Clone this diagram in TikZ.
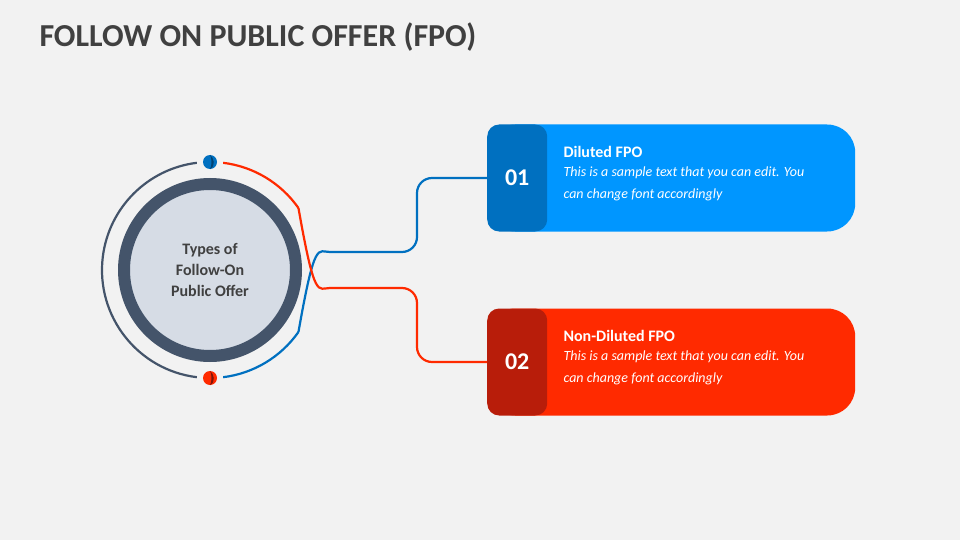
\documentclass[tikz,border=0pt]{standalone}
\usepackage{fontspec}
\setmainfont{Carlito}
\usetikzlibrary{positioning,calc}
\definecolor{bgray}{HTML}{F2F2F2}
\definecolor{tgray}{HTML}{404040}
\definecolor{ringc}{HTML}{44546A}
\definecolor{hubc}{HTML}{D6DCE5}
\definecolor{blueD}{HTML}{0070C0}
\definecolor{blueL}{HTML}{0096FF}
\definecolor{redD}{HTML}{B81D0A}
\definecolor{redL}{HTML}{FF2A00}
\tikzset{
    %Define style for option boxes
    optbox/.style={
           rectangle, rounded corners=28pt,
           minimum width=368pt, minimum height=107pt,
           anchor=west},
    % number tab
    numtab/.style={
           rectangle, rounded corners=12pt,
           minimum width=60pt, minimum height=107pt,
           anchor=west, text=white,
           font=\bfseries\fontsize{24}{28}\selectfont},
    % Define link style
    link/.style={
           line width=2.2pt,
           rounded corners=15pt}
}
\begin{document}
\begin{tikzpicture}[x=1pt,y=-1pt,
head/.style={anchor=west, text=white, font=\bfseries\fontsize{16}{19}\selectfont},
body/.style={anchor=north west, text=white, align=left,
  font=\itshape\fontsize{14}{22}\selectfont}
]
\fill[bgray] (0,0) rectangle (960,540);
\useasboundingbox (0,0) rectangle (960,540);
%Title
\node[anchor=west, text=tgray, font=\bfseries\fontsize{32}{36}\selectfont] (title) at (36,37) {FOLLOW ON PUBLIC OFFER (FPO)};
%Hub
\node[circle, draw=ringc, line width=12pt, fill=hubc, minimum size=172pt,
  text=tgray, align=center, font=\bfseries\fontsize{16}{21}\selectfont] (hub) at (210,270)
  {Types of\\Follow-On\\Public Offer};
\draw[ringc, line width=2.2pt] (210,270) ++(97:108) arc (97:263:108);
%Boxes
\node[optbox, fill=blueL] (box1) at (487,178) {};
\node[numtab, fill=blueD] (num1) at (487,178) {01};
\node[head] (h1) at (560,152) {Diluted FPO};
\node[body] (t1) [below=2pt of h1.south west, anchor=north west, xshift=0pt] {This is a sample text that you can edit. You\\can change font accordingly};
\node[optbox, fill=redL] (box2) at (487,362) {};
\node[numtab, fill=redD] (num2) at (487,362) {02};
\node[head] (h2) at (560,336) {Non-Diluted FPO};
\node[body] (t2) [below=2pt of h2.south west, anchor=north west] {This is a sample text that you can edit. You\\can change font accordingly};
%Links
\coordinate (s1) at ($(210,270)+(35:108)$);
\coordinate (s2) at ($(210,270)+(-35:108)$);
\draw[blueD, line width=2.2pt] (210,270) ++(83:108) arc (83:35:108);
\draw[blueD, link] (s1) .. controls (315,238) and (318,252) .. (345,252) -- (417,252) -- (417,178) -- (num1.west);
\draw[redL, line width=2.2pt] (210,270) ++(-83:108) arc (-83:-35:108);
\draw[redL, link] (s2) .. controls (315,302) and (318,288) .. (345,288) -- (417,288) -- (417,362) -- (num2.west);
%Dots
\node[circle, fill=blueD, minimum size=14pt, inner sep=0] (d1) at (210,162) {};
\fill[blueD!60!black] (d1.north) .. controls (214,158) and (216,166) .. (d1.south) .. controls (212,166) and (212,158) .. cycle;
\node[circle, fill=redL, minimum size=14pt, inner sep=0] (d2) at (210,378) {};
\fill[redD!70!black] (d2.north) .. controls (214,374) and (216,382) .. (d2.south) .. controls (212,382) and (212,374) .. cycle;
\end{tikzpicture}
\end{document}
